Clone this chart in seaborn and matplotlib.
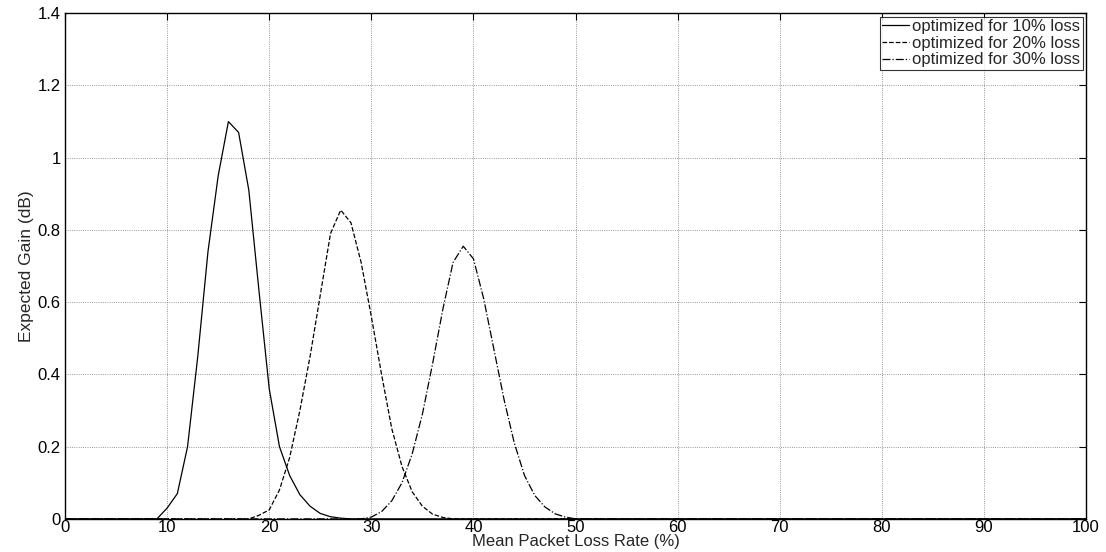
import numpy as np
import pandas as pd
import matplotlib
matplotlib.use("Agg")
import matplotlib.pyplot as plt
import seaborn as sns

# Mean packet loss rate (%)
loss_rate = list(range(0, 101))

# Non-zero portions of each curve (start index, values); remaining points are zero
opt10_start = 9
opt10_vals = [0.0, 0.03, 0.07, 0.2, 0.45, 0.74, 0.95, 1.10, 1.07, 0.91, 0.63, 0.36,
              0.2, 0.12, 0.067, 0.035, 0.015, 0.006, 0.002, 0.0]
opt20_start = 18
opt20_vals = [0.0, 0.01, 0.025, 0.08, 0.17, 0.30, 0.45, 0.62, 0.79, 0.855, 0.82,
              0.71, 0.56, 0.40, 0.25, 0.145, 0.075, 0.035, 0.013, 0.004, 0.0]
opt30_start = 29
opt30_vals = [0.0, 0.005, 0.02, 0.05, 0.10, 0.18, 0.29, 0.43, 0.58, 0.71, 0.755,
              0.72, 0.61, 0.47, 0.33, 0.21, 0.12, 0.065, 0.033, 0.014, 0.005, 0.0]

labels = ["optimized for 10% loss", "optimized for 20% loss", "optimized for 30% loss"]


def full_series(start, vals):
    y = [0.0] * len(loss_rate)
    for i, v in enumerate(vals):
        y[start + i] = v
    return y


series = [full_series(opt10_start, opt10_vals),
          full_series(opt20_start, opt20_vals),
          full_series(opt30_start, opt30_vals)]

sns.set_style("white")
plt.rcParams['font.family'] = ['Liberation Sans', 'DejaVu Sans']

fig = plt.figure(figsize=(11.06, 5.52), dpi=100)
ax = fig.add_axes([0.0588, 0.06, 0.9232, 0.916])

styles = ['-', '--', '-.']
for lab, y, ls in zip(labels, series, styles):
    sns.lineplot(x=loss_rate, y=y, ax=ax, color='black', linestyle=ls,
                 linewidth=0.9, label=lab)

ax.set_xlim(0, 100)
ax.set_ylim(0, 1.4)
ax.set_xticks(np.arange(0, 101, 10))
ax.set_yticks(np.arange(0, 1.41, 0.2))
ax.set_yticklabels(['0', '0.2', '0.4', '0.6', '0.8', '1', '1.2', '1.4'])
ax.grid(True, linestyle=':', color='#777777', linewidth=0.6)
ax.tick_params(direction='in', top=True, right=True, length=5, labelsize=12,
               colors='black')
ax.tick_params(axis='x', pad=1)
ax.tick_params(axis='y', pad=3)
for s in ax.spines.values():
    s.set_color('black')
    s.set_linewidth(1.0)

ax.set_xlabel("Mean Packet Loss Rate (%)", fontsize=12, labelpad=-1)
ax.set_ylabel("Expected Gain (dB)", fontsize=12.5, labelpad=3)

leg = ax.legend(loc='upper right', fontsize=12, frameon=True, fancybox=False,
                borderaxespad=0.2, handlelength=1.6, handletextpad=0.2,
                borderpad=0.15, labelspacing=0.1)
leg.get_frame().set_edgecolor('black')
leg.get_frame().set_linewidth(0.8)

fig.savefig("out.png", dpi=100)
